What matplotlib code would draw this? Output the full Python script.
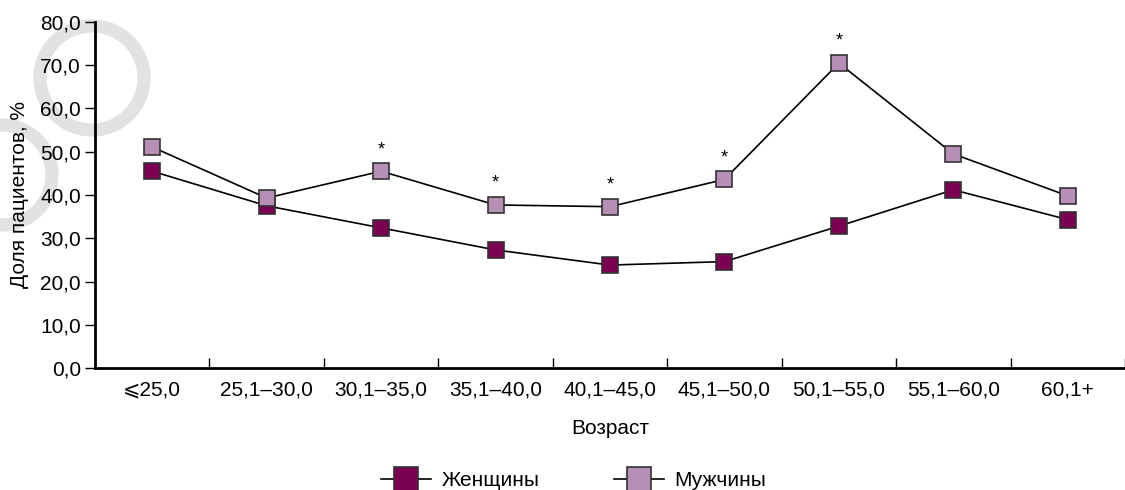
import matplotlib
matplotlib.use("Agg")
import matplotlib.pyplot as plt
from matplotlib.patches import Circle
from matplotlib.ticker import FuncFormatter, FixedLocator

plt.rcParams["font.family"] = ["Liberation Sans", "DejaVu Sans"]

# Age groups and share of patients (%)
age_groups = ["⩽25,0", "25,1–30,0", "30,1–35,0", "35,1–40,0", "40,1–45,0",
              "45,1–50,0", "50,1–55,0", "55,1–60,0", "60,1+"]
women = [45.5, 37.5, 32.4, 27.3, 23.8, 24.6, 32.8, 41.2, 34.3]
men = [51.1, 39.3, 45.5, 37.7, 37.3, 43.6, 70.5, 49.5, 39.8]
significant = [2, 3, 4, 5, 6]  # groups marked with *

C_WOMEN = "#7b0052"
C_MEN = "#b68eb6"
FS = 15

fig = plt.figure(figsize=(11.25, 4.9), dpi=100)

# faint grey rings in the background (from the source scan)
bg = fig.add_axes([0, 0, 1, 1], zorder=0)
bg.set_xlim(0, 1125)
bg.set_ylim(490, 0)
bg.axis("off")
for cx, cy, r in [(92, 78, 52), (2, 175, 50)]:
    bg.add_patch(Circle((cx, cy), r, fill=False, ec="#e2e2e2", lw=9.5))

ax = fig.add_axes([95 / 1125, 1 - 368 / 490, 1 - 95 / 1125, (368 - 22) / 490], zorder=1)
ax.patch.set_alpha(0)

x = list(range(len(age_groups)))
ax.plot(x, women, color="black", lw=1.2, marker="s", ms=12,
        mfc=C_WOMEN, mec="#333333", mew=1.2, label="Женщины", zorder=3)
ax.plot(x, men, color="black", lw=1.2, marker="s", ms=12,
        mfc=C_MEN, mec="#333333", mew=1.2, label="Мужчины", zorder=3)

for i in significant:
    ax.text(x[i], men[i] + 5.0, "*", ha="center", va="center", fontsize=13)

ax.set_xlim(-0.5, len(age_groups) - 0.5)
ax.set_ylim(0, 80)
ax.set_yticks(range(0, 81, 10))
ax.yaxis.set_major_formatter(FuncFormatter(lambda v, p: f"{v:.1f}".replace(".", ",")))
ax.set_xticks(x)
ax.set_xticklabels(age_groups)
ax.xaxis.set_minor_locator(FixedLocator([i + 0.5 for i in x]))

for s in ["top", "right"]:
    ax.spines[s].set_visible(False)
for s in ["left", "bottom"]:
    ax.spines[s].set_linewidth(2)

ax.tick_params(axis="y", direction="out", length=7, width=1, labelsize=FS, pad=3)
ax.tick_params(axis="x", which="major", length=0, labelsize=FS, pad=9)
ax.tick_params(axis="x", which="minor", direction="in", length=7, width=1)

ax.set_xlabel("Возраст", fontsize=FS, labelpad=14)
ax.set_ylabel("Доля пациентов, %", fontsize=FS, labelpad=8)

fig.legend(loc="lower center", bbox_to_anchor=(0.51, -0.038), ncol=2, frameon=False,
           fontsize=FS, columnspacing=3.6, handlelength=2.4, handletextpad=0.5,
           markerscale=1.4)

fig.savefig("out.png", dpi=100)
